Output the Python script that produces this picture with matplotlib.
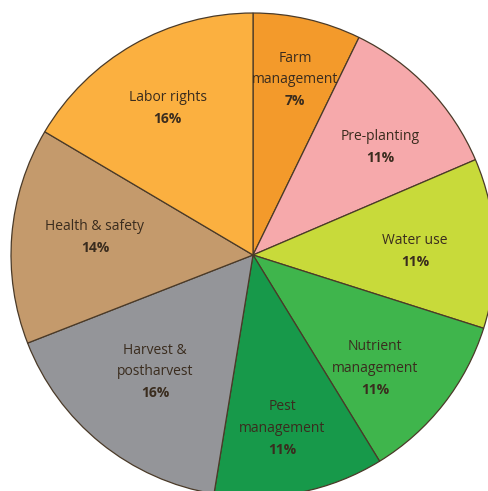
import numpy as np
import matplotlib

matplotlib.use("Agg")
import matplotlib.pyplot as plt

# Slices, clockwise from 12 o'clock
categories = [
    "Farm\nmanagement",
    "Pre-planting",
    "Water use",
    "Nutrient\nmanagement",
    "Pest\nmanagement",
    "Harvest &\npostharvest",
    "Health & safety",
    "Labor rights",
]
shares = [7, 11, 11, 11, 11, 16, 14, 16]
colors = [
    "#f39a2b",
    "#f6a9ab",
    "#c8da3a",
    "#3fb54c",
    "#17994a",
    "#949599",
    "#c49a6c",
    "#fbb040",
]
text_color = "#3a2c1e"

plt.rcParams["font.family"] = ["Open Sans", "DejaVu Sans"]

fig = plt.figure(figsize=(4.89, 4.91), dpi=100)
ax = fig.add_axes([0.0225, -0.0122, 0.9898, 0.9857])

wedges, _ = ax.pie(
    shares,
    colors=colors,
    startangle=90,
    counterclock=False,
    radius=1.0,
    wedgeprops=dict(edgecolor="#4a3a28", linewidth=0.9),
)
ax.set_xlim(-1, 1)
ax.set_ylim(-1, 1)
ax.set_aspect("equal")
ax.axis("off")

# label placement: radius (fraction of pie radius) and clockwise nudge in degrees
label_r = [0.744, 0.688, 0.67, 0.687, 0.725, 0.63, 0.657, 0.70]
label_nudge = [0.5, 3.3, 1.4, 4.8, 1.6, 1.0, 1.7, -0.5]
pitch = 15.5  # points between text lines

for w, name, val, r, nd in zip(wedges, categories, shares, label_r, label_nudge):
    mid = np.deg2rad((w.theta1 + w.theta2) / 2 - nd)
    x, y = r * np.cos(mid), r * np.sin(mid)
    lines = name.split("\n") + [f"{val}%"]
    n = len(lines)
    for i, line in enumerate(lines):
        dy = ((n - 1) / 2 - i) * pitch
        ax.annotate(line, (x, y), xytext=(0, dy), textcoords="offset points",
                    ha="center", va="center", fontsize=10, color=text_color,
                    fontweight="bold" if i == n - 1 else "normal")

fig.savefig("out.png", dpi=100)
